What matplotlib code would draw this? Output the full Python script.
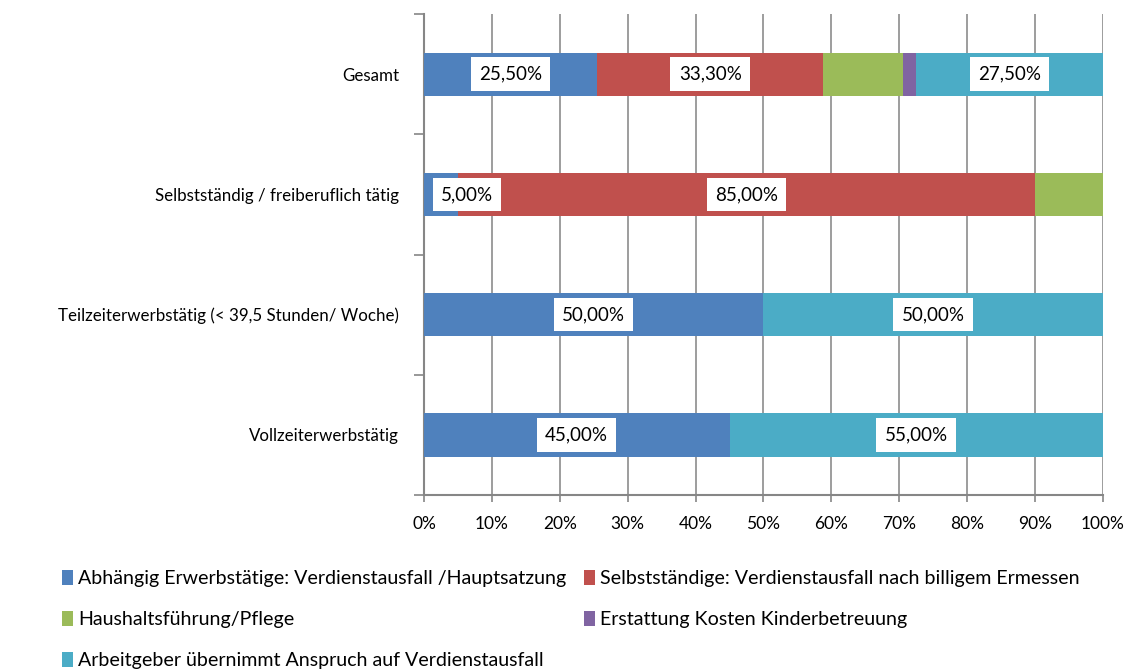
import matplotlib
matplotlib.use("Agg")
from matplotlib import pyplot as plt
from matplotlib.patches import Patch
import numpy as np

categories = ['Vollzeiterwerbstätig',
              'Teilzeiterwerbstätig (< 39,5 Stunden/ Woche)',
              'Selbstständig / freiberuflich tätig',
              'Gesamt']
series_names = ['Abhängig Erwerbstätige: Verdienstausfall /Hauptsatzung',
                'Selbstständige: Verdienstausfall nach billigem Ermessen',
                'Haushaltsführung/Pflege',
                'Erstattung Kosten Kinderbetreuung',
                'Arbeitgeber übernimmt Anspruch auf Verdienstausfall']
abhaengig = [45.0, 50.0, 5.0, 25.5]
selbststaendige = [0.0, 0.0, 85.0, 33.3]
haushalt = [0.0, 0.0, 10.0, 11.7]
kinderbetreuung = [0.0, 0.0, 0.0, 2.0]
arbeitgeber = [55.0, 50.0, 0.0, 27.5]
# which segments carry a value label (as in the original)
labelled = [True, True, False, False, True]

colors = ['#4F81BD', '#C0504D', '#9BBB59', '#8064A2', '#4BACC6']

plt.rcParams['font.family'] = ['Lato', 'DejaVu Sans']

fig = plt.figure(figsize=(11.33, 6.69), dpi=100)
ax = fig.add_axes([0.3742, 0.260, 0.5993, 0.719])

series = [abhaengig, selbststaendige, haushalt, kinderbetreuung, arbeitgeber]
y = np.arange(len(categories))
left = np.zeros(len(categories))
for vals, col, lab in zip(series, colors, labelled):
    vals = np.array(vals)
    ax.barh(y, vals, left=left, height=0.36, color=col, zorder=3)
    if lab:
        for yi, v, l in zip(y, vals, left):
            if v <= 0:
                continue
            txt = '{:.2f}%'.format(v).replace('.', ',')
            box = dict(facecolor='white', edgecolor='none', pad=6)
            if v < 8:
                ax.text(l + 2.5, yi, txt, ha='left', va='center', fontsize=13.5, zorder=5, bbox=box)
            else:
                ax.text(l + v / 2, yi, txt, ha='center', va='center', fontsize=13.5, zorder=5, bbox=box)
    left += vals

ax.set_xlim(0, 100)
ax.set_ylim(-0.5, len(categories) - 0.5)
ax.set_xticks(np.arange(0, 101, 10))
ax.set_xticklabels(['{}%'.format(t) for t in range(0, 101, 10)], fontsize=12.5)
ax.set_yticks(y)
ax.set_yticklabels(categories, fontsize=12.2)
ax.set_yticks(np.arange(-0.5, len(categories), 1), minor=True)
ax.tick_params(axis='y', which='major', length=0, pad=18)
ax.tick_params(axis='y', which='minor', length=7, color='#868686', width=1.2)
ax.tick_params(axis='x', length=5, color='#868686', width=1.2, pad=10)
ax.grid(axis='x', color='#8c8c8c', linewidth=1.2, zorder=0)
for s in ['top', 'right']:
    ax.spines[s].set_visible(False)
for s in ['left', 'bottom']:
    ax.spines[s].set_color('#868686')
    ax.spines[s].set_linewidth(1.5)

handles = [Patch(facecolor=c, edgecolor='none') for c in colors]
order = [0, 2, 4, 1, 3]
fig.legend([handles[i] for i in order], [series_names[i] for i in order],
           ncol=2, loc='upper left', bbox_to_anchor=(0.055, 0.148),
           frameon=False, fontsize=14.1, handlelength=0.55, handleheight=0.8,
           handletextpad=0.25, columnspacing=0.9, labelspacing=1.2,
           borderaxespad=0, borderpad=0)

fig.savefig('out.png', dpi=100)
